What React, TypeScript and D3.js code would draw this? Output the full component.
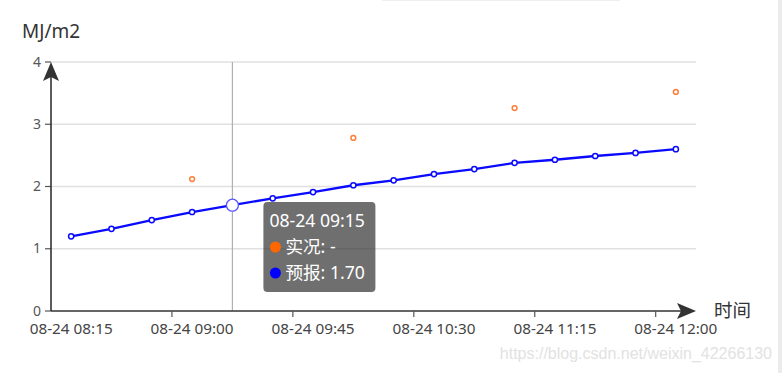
import React from "react";
import * as d3 from "d3";

const times = [
  "08-24 08:15", "08-24 08:30", "08-24 08:45", "08-24 09:00",
  "08-24 09:15", "08-24 09:30", "08-24 09:45", "08-24 10:00",
  "08-24 10:15", "08-24 10:30", "08-24 10:45", "08-24 11:00",
  "08-24 11:15", "08-24 11:30", "08-24 11:45", "08-24 12:00",
];
const forecast = [1.2, 1.32, 1.46, 1.59, 1.7, 1.81, 1.91, 2.02, 2.1, 2.2, 2.28, 2.38, 2.43, 2.49, 2.54, 2.6];
const actual: (number | null)[] = [null, null, null, 2.12, null, null, null, 2.78, null, null, null, 3.26, null, null, null, 3.52];
const yTicks = [0, 1, 2, 3, 4];
const hoverIndex = 4;

const FONT = "'Noto Sans', 'Noto Sans CJK SC', sans-serif";

const App = () => {
  const width = 782;
  const height = 373;
  const margin = { top: 62, right: 86, bottom: 62, left: 51 };
  const innerW = width - margin.left - margin.right;
  const innerH = height - margin.top - margin.bottom;

  const x = d3.scaleBand<string>().domain(times).range([0, innerW]);
  const cx = (i: number) => (x(times[i]) ?? 0) + x.bandwidth() / 2;
  const y = d3.scaleLinear().domain([0, 4]).range([innerH, 0]);

  const line = d3
    .line<number>()
    .x((_, i) => cx(i))
    .y((d) => y(d));

  // labels every 3 categories, ticks on band boundaries
  const labelIdx = times.map((_, i) => i).filter((i) => i % 3 === 0);

  const hx = cx(hoverIndex);
  const tipX = hx + 31;
  const tipY = 202 - margin.top;

  return (
    <svg
      width={width}
      height={height}
      style={{ position: "absolute", left: 0, top: 0, background: "#fff" }}
    >
      <rect x={778} y={0} width={4} height={height} fill="#ececec" />
      <line x1={382} x2={620} y1={0.5} y2={0.5} stroke="#eeeeee" />
      <text x={22} y={38} fontSize={19} fill="#333" fontFamily={FONT}>
        MJ/m2
      </text>
      <g transform={`translate(${margin.left},${margin.top})`}>
        {yTicks.map((t) => (
          <g key={t}>
            {t > 0 && (
              <line x1={0} x2={innerW} y1={y(t)} y2={y(t)} stroke="#e0e0e0" strokeWidth={1.5} />
            )}
            <line x1={-6} x2={0} y1={y(t)} y2={y(t)} stroke="#555" strokeWidth={1.2} />
            <text
              x={-10}
              y={y(t)}
              dy="0.33em"
              textAnchor="end"
              fontSize={14}
              fill="#555"
              fontFamily={FONT}
            >
              {t}
            </text>
          </g>
        ))}

        {/* axis pointer */}
        <line x1={hx} x2={hx} y1={0} y2={innerH} stroke="#b0b0b0" strokeWidth={1.2} />

        {/* x axis */}
        <line x1={0} x2={innerW - 2} y1={innerH} y2={innerH} stroke="#333" strokeWidth={1.6} />
        <path
          d={`M${innerW},${innerH} L${innerW - 19},${innerH - 8} L${innerW - 15},${innerH} L${innerW - 19},${innerH + 8} Z`}
          fill="#333"
        />
        {labelIdx.map((i) => (
          <g key={i}>
            {i > 0 && (
              <line
                x1={x(times[i]) ?? 0}
                x2={x(times[i]) ?? 0}
                y1={innerH}
                y2={innerH + 6}
                stroke="#555"
                strokeWidth={1.2}
              />
            )}
            <text
              x={cx(i)}
              y={innerH + 23}
              textAnchor="middle"
              fontSize={15.3}
              fill="#444"
              fontFamily={FONT}
            >
              {times[i]}
            </text>
          </g>
        ))}
        <text x={innerW + 18} y={innerH + 6} fontSize={18.5} fill="#333" fontFamily={FONT}>
          时间
        </text>

        {/* y axis */}
        <line x1={0} x2={0} y1={4} y2={innerH} stroke="#333" strokeWidth={1.6} />
        <path d={`M0,0 L-8,19 L0,15 L8,19 Z`} fill="#333" />

        {/* forecast line */}
        <path d={line(forecast) ?? ""} fill="none" stroke="#0a0aff" strokeWidth={2.3} />
        {forecast.map((v, i) => (
          <circle
            key={i}
            cx={cx(i)}
            cy={y(v)}
            r={i === hoverIndex ? 6 : 2.6}
            fill="#fff"
            stroke={i === hoverIndex ? "#5555ff" : "#0a0aff"}
            strokeWidth={i === hoverIndex ? 1.3 : 1.5}
          />
        ))}

        {/* actual points */}
        {actual.map((v, i) =>
          v == null ? null : (
            <circle key={i} cx={cx(i)} cy={y(v)} r={2.4} fill="#fff" stroke="#ff7f3a" strokeWidth={1.5} />
          )
        )}

        {/* tooltip */}
        <g transform={`translate(${tipX},${tipY})`} fontFamily={FONT}>
          <rect width={112} height={90} rx={4} fill="rgba(50,50,50,0.7)" />
          <text x={6} y={25} fill="#fff" fontSize={17.6}>
            {times[hoverIndex]}
          </text>
          <circle cx={12} cy={45} r={5.5} fill="#ff6600" />
          <text x={22} y={51} fill="#fff" fontSize={17.6}>
            {`实况: ${actual[hoverIndex] == null ? "-" : actual[hoverIndex]!.toFixed(2)}`}
          </text>
          <circle cx={12} cy={71} r={5.5} fill="#0000ff" />
          <text x={22} y={77} fill="#fff" fontSize={17.6}>
            {`预报: ${forecast[hoverIndex].toFixed(2)}`}
          </text>
        </g>
      </g>

      <text
        x={772}
        y={359}
        textAnchor="end"
        fontSize={16}
        fill="#e2e2e2"
        fontFamily="'Liberation Sans', Arial, sans-serif"
      >
        https://blog.csdn.net/weixin_42266130
      </text>
    </svg>
  );
};

export default App;
